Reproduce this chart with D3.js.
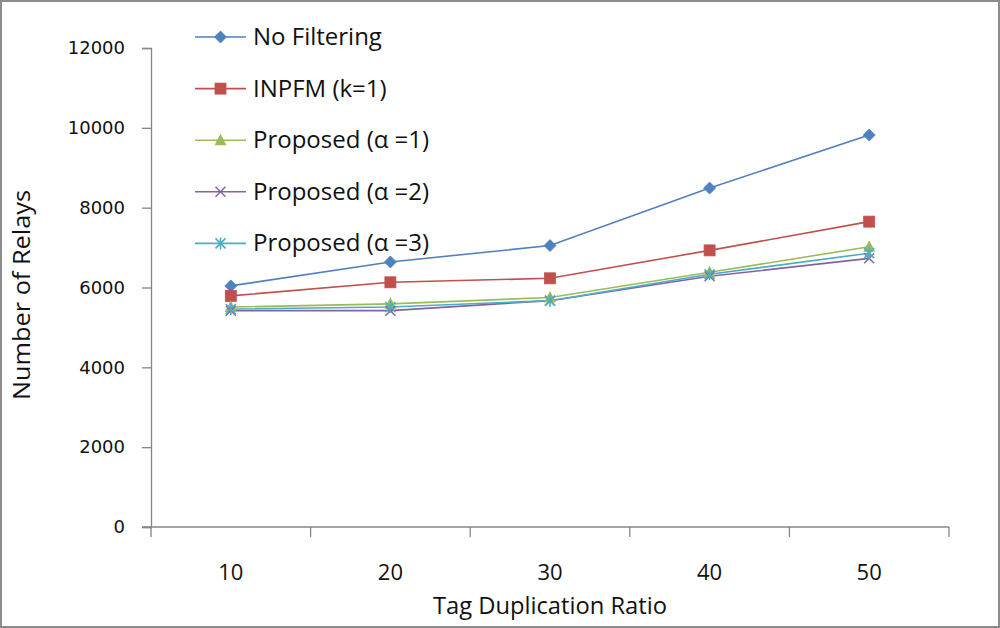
<!DOCTYPE html>
<html><head><meta charset="utf-8">
<script src="https://cdn.jsdelivr.net/npm/d3@7"></script>
<style>
html,body{margin:0;padding:0;background:#fff;}
svg{display:block;}
</style></head>
<body>
<svg id="chart" width="1000" height="628"></svg>
<script>
const categories = ["10", "20", "30", "40", "50"];
const seriesNames = ["No Filtering", "INPFM (k=1)", "Proposed (\u03b1 =1)", "Proposed (\u03b1 =2)", "Proposed (\u03b1 =3)"];
const noFiltering = [6040, 6640, 7050, 8490, 9820];
const inpfm = [5790, 6130, 6230, 6930, 7650];
const proposedA1 = [5510, 5590, 5750, 6380, 7020];
const proposedA2 = [5420, 5420, 5670, 6280, 6730];
const proposedA3 = [5460, 5510, 5670, 6330, 6860];
const yTicks = [0, 2000, 4000, 6000, 8000, 10000, 12000];
const colors = ["#4F81BD", "#C0504D", "#9BBB59", "#8064A2", "#4BACC6"];
const markers = ["diamond", "square", "triangle", "x", "star"];

(function () {
const series = [noFiltering, inpfm, proposedA1, proposedA2, proposedA3].map((v, i) => ({
  name: seriesNames[i], values: v, color: colors[i], marker: markers[i]
}));

const svg = d3.select("#chart");
const W = 1000, H = 628;
svg.append("rect").attr("x", 1).attr("y", 1).attr("width", W - 2).attr("height", H - 2)
  .attr("fill", "#fff").attr("stroke", "#8c8c8c").attr("stroke-width", 2);

const mLeft = 151, mRight = 949, mTop = 48, mBottom = 527;
const x = d3.scaleBand().domain(categories).range([mLeft, mRight]).padding(0);
const y = d3.scaleLinear().domain([0, 12000]).range([mBottom, mTop]);
const axisColor = "#868686";
const labelFont = "'Liberation Sans Narrow', 'Open Sans', sans-serif";

const yAxis = d3.axisLeft(y).tickValues(yTicks).tickSize(9).tickPadding(17).tickFormat(d3.format("d"));
const gy = svg.append("g").attr("transform", `translate(${mLeft},0)`).call(yAxis);
gy.select(".domain").attr("stroke", axisColor).attr("stroke-width", 1.3);
gy.selectAll(".tick line").attr("stroke", axisColor).attr("stroke-width", 1.3);
gy.selectAll(".tick text").attr("fill", "#111").style("font-family", "'DejaVu Sans', Verdana, sans-serif").style("font-size", "18px");

const xAxis = d3.axisBottom(x).tickSize(0).tickPadding(37);
const gx = svg.append("g").attr("transform", `translate(0,${mBottom})`).call(xAxis);
gx.select(".domain").remove();
gx.append("line").attr("x1", mLeft - 9).attr("x2", mRight).attr("y1", 0).attr("y2", 0)
  .attr("stroke", axisColor).attr("stroke-width", 1.3);
const bounds = categories.map(c => x(c)).concat([x(categories[categories.length - 1]) + x.bandwidth()]);
gx.selectAll("line.btick").data(bounds).enter().append("line").attr("class", "btick")
  .attr("x1", d => d).attr("x2", d => d).attr("y1", 0).attr("y2", 10)
  .attr("stroke", axisColor).attr("stroke-width", 1.3);
gx.selectAll(".tick text").attr("fill", "#111").style("font-family", labelFont).style("font-size", "22px");

svg.append("text").attr("x", 550).attr("y", 614).attr("text-anchor", "middle")
  .style("font-family", labelFont).style("font-size", "23px").attr("fill", "#111")
  .attr("textLength", 234).attr("lengthAdjust", "spacingAndGlyphs")
  .text("Tag Duplication Ratio");
svg.append("text").attr("transform", `translate(30,295) rotate(-90)`).attr("text-anchor", "middle")
  .style("font-family", labelFont).style("font-size", "23px").attr("fill", "#111")
  .attr("textLength", 210).attr("lengthAdjust", "spacingAndGlyphs")
  .text("Number of Relays");

function drawMarker(g, type, color, cx, cy) {
  if (type === "diamond") {
    g.append("path").attr("d", `M${cx},${cy - 6}L${cx + 6},${cy}L${cx},${cy + 6}L${cx - 6},${cy}Z`).attr("fill", color).attr("stroke", color).attr("stroke-width", 0.8);
  } else if (type === "square") {
    g.append("rect").attr("x", cx - 5.5).attr("y", cy - 5.5).attr("width", 11).attr("height", 11).attr("fill", color).attr("stroke", color).attr("stroke-width", 0.8);
  } else if (type === "triangle") {
    g.append("path").attr("d", `M${cx},${cy - 6.5}L${cx + 6},${cy + 5}L${cx - 6},${cy + 5}Z`).attr("fill", color);
  } else if (type === "x") {
    g.append("path").attr("d", `M${cx - 5},${cy - 5}L${cx + 5},${cy + 5}M${cx - 5},${cy + 5}L${cx + 5},${cy - 5}`).attr("stroke", color).attr("stroke-width", 1.4).attr("fill", "none");
  } else if (type === "star") {
    g.append("path").attr("d", `M${cx - 5},${cy - 5}L${cx + 5},${cy + 5}M${cx - 5},${cy + 5}L${cx + 5},${cy - 5}M${cx},${cy - 6}L${cx},${cy + 6}`).attr("stroke", color).attr("stroke-width", 1.6).attr("fill", "none");
  }
}

const line = d3.line().x((d, i) => x(categories[i]) + x.bandwidth() / 2).y(d => y(d));
const plot = svg.append("g");
series.forEach(s => {
  plot.append("path").datum(s.values).attr("d", line).attr("fill", "none").attr("stroke", s.color).attr("stroke-width", 1.6);
});
series.forEach(s => {
  const g = plot.append("g");
  s.values.forEach((v, i) => drawMarker(g, s.marker, s.color, x(categories[i]) + x.bandwidth() / 2, y(v)));
});

const legend = svg.append("g");
series.forEach((s, i) => {
  const ly = 37 + i * 51.6;
  const g = legend.append("g");
  g.append("line").attr("x1", 195).attr("x2", 246).attr("y1", ly).attr("y2", ly).attr("stroke", s.color).attr("stroke-width", 1.6);
  drawMarker(g, s.marker, s.color, 220.5, ly);
  g.append("text").attr("x", 253).attr("y", ly + 8).attr("fill", "#111")
    .style("font-family", labelFont).style("font-size", "24px")
    .text(s.name);
});
})();
</script>
</body></html>
